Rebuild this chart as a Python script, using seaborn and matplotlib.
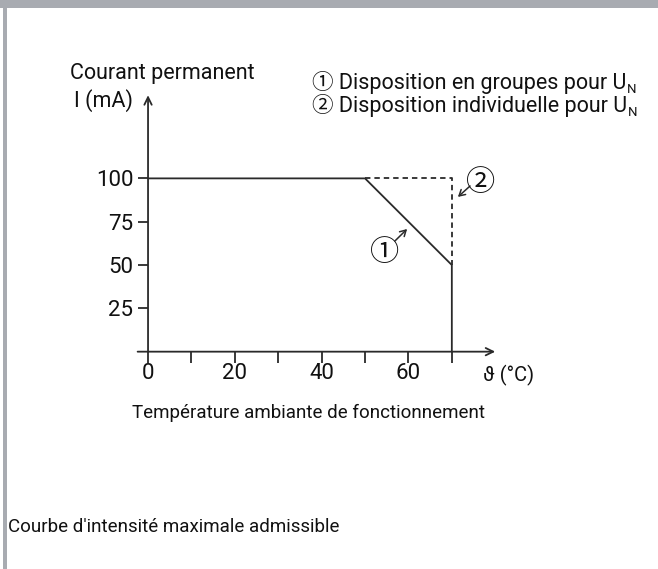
import matplotlib
matplotlib.use("Agg")
import matplotlib.pyplot as plt
import seaborn as sns
import pandas as pd
from matplotlib.patches import Rectangle

# ---- data ----
temp_groups = [0, 50, 70, 70]
current_groups = [100, 100, 50, 0]
temp_indiv = [50, 70, 70]
current_indiv = [100, 100, 50]
x_ticks = [0, 10, 20, 30, 40, 50, 60, 70]
x_ticklabels = ["0", "", "20", "", "40", "", "60", ""]
y_ticks = [25, 50, 75, 100]
y_ticklabels = ["25", "50", "75", "100"]

sns.set_theme(style="white")
FAM = ["Roboto", "Noto Sans CJK SC", "DejaVu Sans"]
plt.rcParams["font.family"] = FAM
INK = "#2a2a2a"
TXT = "#111111"

W, H = 658, 569
fig = plt.figure(figsize=(W / 100, H / 100), dpi=100)
fig.patch.set_facecolor("white")

def fx(px):
    return px / W

def fy(py):
    return 1 - py / H

# frame
fig.patches.append(Rectangle((0, fy(8)), 1, 8 / H, transform=fig.transFigure,
                             facecolor="#a8abb1", edgecolor="none", zorder=0))
fig.patches.append(Rectangle((fx(3), 0), 4 / W, fy(8), transform=fig.transFigure,
                             facecolor="#a8abb1", edgecolor="none", zorder=0))

ax = fig.add_axes([0.1920, 0.3515, 0.5936, 0.5025])
ax.set_facecolor("none")

df1 = pd.DataFrame({"t": temp_groups, "i": current_groups})
df2 = pd.DataFrame({"t": temp_indiv, "i": current_indiv})
sns.lineplot(data=df1, x="t", y="i", sort=False, estimator=None, ax=ax,
             color=INK, lw=1.3)
sns.lineplot(data=df2, x="t", y="i", sort=False, estimator=None, ax=ax,
             color=INK, lw=1.3, linestyle=(0, (3, 2.2)))

ax.set_xlim(-5, 85)
ax.set_ylim(-10, 155)
ax.set_xlabel("")
ax.set_ylabel("")

for s in ["top", "right"]:
    ax.spines[s].set_visible(False)
ax.spines["left"].set_position(("data", 0))
ax.spines["bottom"].set_position(("data", 0))
ax.spines["left"].set_color("none")
ax.spines["bottom"].set_color("none")

ax.set_xticks(x_ticks)
ax.set_xticklabels(x_ticklabels)
ax.set_yticks(y_ticks)
ax.set_yticklabels(y_ticklabels)
ax.tick_params(axis="x", direction="out", length=8, width=1.3, color=INK,
               labelsize=16, labelcolor=TXT, pad=0.5, bottom=True)
ax.tick_params(axis="y", direction="out", length=7.5, width=1.3, color=INK,
               labelsize=16, labelcolor=TXT, pad=3, left=True)

# axis lines with arrows
arrow = dict(arrowstyle="->,head_length=0.45,head_width=0.22", color=INK, lw=1.3,
             shrinkA=0, shrinkB=0)
ax.annotate("", xy=(80, 0), xytext=(-2.4, 0), arrowprops=arrow)
ax.annotate("", xy=(0, 148), xytext=(0, 0), arrowprops=arrow)

# curve markers
small = dict(arrowstyle="->,head_length=0.35,head_width=0.2", color=INK, lw=1.1,
             shrinkA=0, shrinkB=0)
ax.annotate("", xy=(59.7, 70.8), xytext=(56.9, 63.9), arrowprops=small)
ax.annotate("", xy=(71.4, 89.3), xytext=(74.2, 95.6), arrowprops=small)
ax.text(54.6, 58.7, "①", ha="center", va="center_baseline", fontsize=21,
        color=TXT, family=FAM)
ax.text(76.6, 99.1, "②", ha="center", va="center_baseline", fontsize=21,
        color=TXT, family=FAM)

# texts
def T(x, y, s, fs, **kw):
    kw.setdefault("color", TXT)
    kw.setdefault("va", "baseline")
    return fig.text(fx(x), fy(y), s, family=FAM, fontsize=fs, **kw)

T(70, 79, "Courant permanent", 15.5)
T(133, 107, "I (mA)", 15.5, ha="right")
T(309, 418, "Température ambiante de fonctionnement", 13.5, ha="center")
T(483, 381, "ϑ (°C)", 14.5)
T(8, 532, "Courbe d'intensité maximale admissible", 13.5)

renderer = fig.canvas.get_renderer()
for ypx, s in [(89, "① Disposition en groupes pour U"),
               (112, "② Disposition individuelle pour U")]:
    t = T(312, ypx, s, 15.5)
    bb = t.get_window_extent(renderer)
    fig.text(bb.x1 / W + 0.5 / W, fy(ypx + 4), "N", family=FAM, fontsize=9.5,
             color=TXT, va="baseline")

fig.savefig("out.png", dpi=100)
